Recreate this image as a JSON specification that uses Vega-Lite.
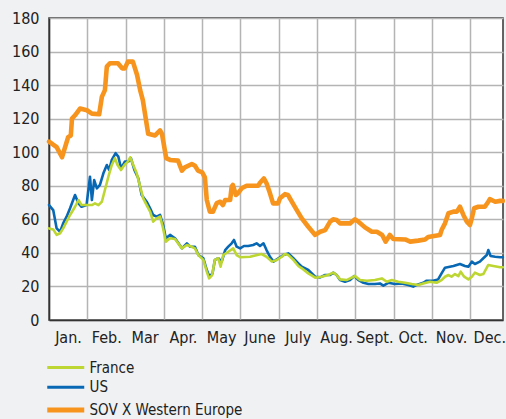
{
  "$schema": "https://vega.github.io/schema/vega-lite/v6.json",
  "width": 454,
  "height": 302,
  "autosize": "none",
  "padding": {"left": 49, "top": 18, "right": 3, "bottom": 99},
  "background": "#f0f1f3",
  "config": {
    "view": {"fill": "#ffffff", "stroke": "#333333", "strokeWidth": 1.5},
    "font": "DejaVu Sans Condensed"
  },
  "datasets": {
    "us": [
      [0.00,68.5],[0.11,65.5],[0.20,54.6],[0.29,52.6],[0.37,57.6],[0.46,61.6],[0.55,66.6],[0.68,74.5],[0.77,69.5],[0.85,67.5],[0.98,68.5],[1.07,85.4],[1.12,71.5],[1.18,83.4],[1.25,78.5],[1.33,80.5],[1.42,87.4],[1.51,92.4],[1.57,89.4],[1.64,95.4],[1.74,99.4],[1.81,97.4],[1.88,90.4],[1.98,94.4],[2.07,94.4],[2.14,96.4],[2.23,89.4],[2.33,84.5],[2.42,74.5],[2.55,70.5],[2.64,66.6],[2.72,62.6],[2.81,61.6],[2.90,62.6],[2.98,56.6],[3.05,48.7],[3.16,50.7],[3.29,48.7],[3.47,42.7],[3.60,45.7],[3.68,43.7],[3.81,43.7],[3.90,38.7],[4.03,36.8],[4.12,29.8],[4.19,25.8],[4.27,27.8],[4.33,35.8],[4.42,36.8],[4.51,34.8],[4.60,41.7],[4.68,43.7],[4.77,45.7],[4.83,47.7],[4.90,43.7],[4.99,42.7],[5.09,44.1],[5.20,44.1],[5.33,44.7],[5.42,45.7],[5.51,44.1],[5.60,45.7],[5.68,41.7],[5.77,37.7],[5.86,34.8],[5.99,36.8],[6.12,38.7],[6.25,39.7],[6.38,36.8],[6.51,33.8],[6.60,31.8],[6.77,29.8],[6.95,25.8],[7.08,25.4],[7.21,26.8],[7.34,26.8],[7.42,28.2],[7.51,26.8],[7.60,23.8],[7.73,22.8],[7.86,23.8],[7.97,26.2],[8.08,23.8],[8.21,22.2],[8.34,21.5],[8.51,21.5],[8.64,21.8],[8.73,20.5],[8.86,22.2],[9.03,21.5],[9.21,21.8],[9.38,20.9],[9.51,19.9],[9.60,20.9],[9.77,22.2],[9.86,23.4],[10.03,23.4],[10.16,24.2],[10.25,27.8],[10.34,31.2],[10.56,32.2],[10.73,33.4],[10.86,32.2],[10.95,31.8],[11.04,34.8],[11.12,33.4],[11.25,34.8],[11.34,36.8],[11.43,38.7],[11.47,41.7],[11.53,38.1],[11.65,37.7],[11.78,37.4],[11.85,37.4]
    ],
    "fr": [
      [0.00,54.6],[0.11,54.0],[0.20,50.7],[0.29,51.7],[0.37,54.6],[0.46,58.6],[0.55,62.6],[0.68,67.5],[0.77,71.5],[0.85,68.5],[0.98,68.5],[1.12,68.5],[1.20,69.5],[1.29,68.5],[1.38,70.5],[1.46,77.5],[1.55,85.4],[1.64,92.4],[1.72,96.4],[1.79,92.4],[1.88,89.4],[1.97,92.4],[2.06,94.4],[2.12,97],[2.20,92.4],[2.29,87.4],[2.38,79.5],[2.46,72.5],[2.55,68.5],[2.64,64.6],[2.72,58.6],[2.81,60.6],[2.90,61.6],[2.98,54.6],[3.05,46.7],[3.16,48.7],[3.29,48.3],[3.47,42.7],[3.60,44.7],[3.68,44.1],[3.81,42.7],[3.90,38.7],[4.03,35.8],[4.12,28.8],[4.18,24.8],[4.26,26.8],[4.33,35.8],[4.42,36.8],[4.48,31.8],[4.55,38.7],[4.68,40.7],[4.81,42.7],[4.90,38.7],[4.99,37.4],[5.25,37.7],[5.44,38.7],[5.55,39.3],[5.68,37.7],[5.82,34.8],[5.95,35.8],[6.08,37.7],[6.16,39.3],[6.25,38.7],[6.38,35.8],[6.51,32.2],[6.60,30.8],[6.77,27.8],[6.95,25.2],[7.12,25.8],[7.29,26.8],[7.42,28.2],[7.51,26.8],[7.60,24.2],[7.77,23.8],[7.99,26.2],[8.12,23.8],[8.30,23.4],[8.51,23.8],[8.69,24.8],[8.82,22.8],[8.95,23.8],[9.12,22.8],[9.30,22.2],[9.47,21.5],[9.64,20.9],[9.77,21.8],[9.95,22.8],[10.12,22.2],[10.25,23.8],[10.34,25.8],[10.43,26.8],[10.51,25.8],[10.60,27.4],[10.69,26.2],[10.75,28.8],[10.84,25.8],[10.95,24.2],[11.04,25.8],[11.12,28.2],[11.25,26.8],[11.34,27.4],[11.47,32.8],[11.60,32.2],[11.78,31.4],[11.85,31.4]
    ],
    "sov": [
      [0.00,106.3],[0.20,103],[0.34,97],[0.50,109],[0.57,110],[0.60,120],[0.68,122],[0.81,126],[0.99,125],[1.12,123],[1.31,122.6],[1.38,133],[1.46,137],[1.51,151],[1.59,153],[1.80,153],[1.91,150],[1.98,150],[2.06,154],[2.19,154],[2.30,146],[2.38,137],[2.45,131],[2.59,111],[2.77,110],[2.90,113],[2.95,111],[3.06,96.5],[3.16,95.4],[3.37,95],[3.47,89],[3.55,91],[3.73,93],[3.81,92],[3.89,89],[4.00,88],[4.07,85],[4.12,71.5],[4.20,64.5],[4.28,64.5],[4.38,69.7],[4.47,70.5],[4.54,68.5],[4.60,71.5],[4.73,71.5],[4.77,79.5],[4.80,80.5],[4.88,74.5],[4.94,75.7],[5.03,78.5],[5.16,80],[5.46,80],[5.51,81.8],[5.61,84.4],[5.68,81.5],[5.77,75.5],[5.85,69.5],[5.98,69.5],[6.03,72.5],[6.16,75],[6.24,74.5],[6.34,70.5],[6.47,65.5],[6.60,60.6],[6.77,55.6],[6.95,50.7],[7.08,52.6],[7.21,53.6],[7.34,58.6],[7.42,60],[7.51,59.6],[7.60,57.6],[7.86,57.6],[7.99,60],[8.08,58.6],[8.25,55.2],[8.43,52.6],[8.56,52.6],[8.70,50.7],[8.79,46.7],[8.90,50.7],[8.99,48.3],[9.30,48],[9.43,46.7],[9.64,47.3],[9.82,48],[9.90,49.5],[10.21,50.7],[10.25,53.6],[10.34,57.6],[10.43,63.6],[10.56,64.6],[10.65,64.6],[10.73,67.5],[10.82,62.6],[10.91,58.6],[10.99,56.6],[11.04,60.6],[11.10,66.6],[11.21,67.5],[11.38,67.5],[11.47,70.5],[11.51,72],[11.65,70.5],[11.78,71],[11.85,71]
    ]
  },
  "encoding": {
    "x": {
      "field": "m", "type": "quantitative",
      "scale": {"domain": [0, 11.854], "nice": false, "zero": false},
      "axis": {
        "title": null,
        "tickCount": 12,
        "labelExpr": "['Jan.','Feb.','Mar','Apr.','May','June','July','Aug.','Sept.','Oct.','Nov.','Dec.'][datum.value]",
        "labelOffset": 19,
        "labelAlign": "center",
        "ticks": false,
        "grid": true,
        "gridColor": "#b4b4b4",
        "gridWidth": 1.5,
        "domainColor": "#333333",
        "domainWidth": 1.5,
        "labelFontSize": 16,
        "labelColor": "#222222",
        "labelPadding": 9,
        "labelOverlap": false,
        "labelFlush": false
      }
    },
    "y": {
      "field": "v", "type": "quantitative",
      "scale": {"domain": [0, 180], "nice": false},
      "axis": {
        "title": null,
        "tickCount": 9,
        "ticks": false,
        "grid": true,
        "gridColor": "#b4b4b4",
        "gridWidth": 1.5,
        "domainColor": "#333333",
        "domainWidth": 1.5,
        "labelFontSize": 16,
        "labelColor": "#222222",
        "labelPadding": 10,
        "labelFlush": false
      }
    },
    "color": {
      "field": "s", "type": "nominal",
      "scale": {"domain": ["France", "US", "SOV X Western Europe"], "range": ["#bed631", "#0868b4", "#f7941d"]},
      "legend": {
        "title": null,
        "orient": "none",
        "legendX": 0,
        "legendY": 342,
        "direction": "vertical",
        "symbolType": "M-1,0H3",
        "symbolSize": 342,
        "symbolStrokeWidth": 3,
        "labelFontSize": 15,
        "labelColor": "#222222",
        "labelOffset": 25.5,
        "rowPadding": 3.8,
        "encode": {
          "symbols": {
            "update": {
              "strokeWidth": {"signal": "datum.value === 'SOV X Western Europe' ? 5 : 3"}
            }
          }
        }
      }
    }
  },
  "layer": [
    {
      "data": {"values": [{"m": 1}, {"m": 2}, {"m": 3}, {"m": 4}, {"m": 5}, {"m": 6}, {"m": 7}, {"m": 8}, {"m": 9}, {"m": 10}, {"m": 11}]},
      "mark": {"type": "rule", "strokeWidth": 1.6, "opacity": 1},
      "encoding": {
        "y": {"datum": 0, "type": "quantitative"},
        "y2": {"datum": 180},
        "color": {"value": "#b4b4b4"}
      }
    },
    {
      "data": {"values": [{"v": 20}, {"v": 40}, {"v": 60}, {"v": 80}, {"v": 100}, {"v": 120}, {"v": 140}, {"v": 160}]},
      "mark": {"type": "rule", "strokeWidth": 1.6, "opacity": 1},
      "encoding": {
        "x": {"datum": 0, "type": "quantitative"},
        "x2": {"datum": 11.854},
        "color": {"value": "#b4b4b4"}
      }
    },
    {
      "data": {"name": "us"},
      "transform": [
        {"calculate": "datum[0]", "as": "m"},
        {"calculate": "datum[1]", "as": "v"},
        {"calculate": "'US'", "as": "s"}
      ],
      "mark": {"type": "line", "strokeWidth": 2.6, "strokeJoin": "round", "strokeCap": "round"}
    },
    {
      "data": {"name": "fr"},
      "transform": [
        {"calculate": "datum[0]", "as": "m"},
        {"calculate": "datum[1]", "as": "v"},
        {"calculate": "'France'", "as": "s"}
      ],
      "mark": {"type": "line", "strokeWidth": 2.6, "strokeJoin": "round", "strokeCap": "round"}
    },
    {
      "data": {"name": "sov"},
      "transform": [
        {"calculate": "datum[0]", "as": "m"},
        {"calculate": "datum[1]", "as": "v"},
        {"calculate": "'SOV X Western Europe'", "as": "s"}
      ],
      "mark": {"type": "line", "strokeWidth": 4.6, "strokeJoin": "round", "strokeCap": "round"}
    }
  ]
}
